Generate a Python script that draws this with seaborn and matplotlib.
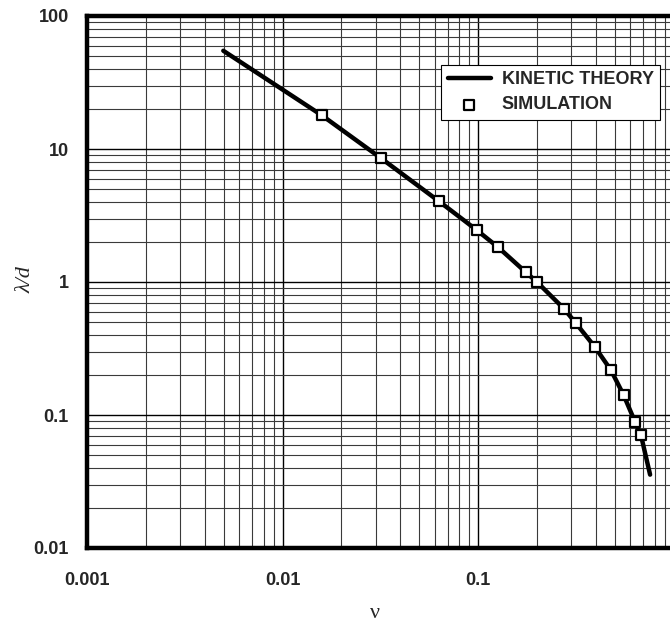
import numpy as np
import pandas as pd
import matplotlib
matplotlib.use("Agg")
import matplotlib.pyplot as plt
import matplotlib.ticker as mticker
import seaborn as sns

# Kinetic theory curve
theory_nu = [0.00498, 0.0159, 0.0318, 0.0632, 0.0984, 0.127, 0.175, 0.201,
             0.276, 0.317, 0.396, 0.479, 0.556, 0.635, 0.682, 0.759]
theory_lam = [54.8, 17.9, 8.56, 4.04, 2.46, 1.82, 1.19, 0.995,
              0.627, 0.489, 0.325, 0.217, 0.141, 0.0892, 0.0703, 0.0356]

# Simulation points
sim_nu = [0.0159, 0.0318, 0.0632, 0.0984, 0.127, 0.175, 0.201,
          0.276, 0.317, 0.396, 0.479, 0.556, 0.635, 0.682]
sim_lam = [17.9, 8.56, 4.04, 2.46, 1.82, 1.19, 0.995,
           0.627, 0.489, 0.325, 0.217, 0.141, 0.0892, 0.0703]

x_ticks = [0.001, 0.01, 0.1]
x_ticklabels = ["0.001", "0.01", "0.1"]
y_ticks = [0.01, 0.1, 1, 10, 100]
y_ticklabels = ["0.01", "0.1", "1", "10", "100"]

sns.set_theme(style="white")
plt.rcParams['font.family'] = ['Liberation Sans', 'DejaVu Sans']

df_t = pd.DataFrame({"nu": theory_nu, "lam": theory_lam})
df_s = pd.DataFrame({"nu": sim_nu, "lam": sim_lam})

fig = plt.figure(figsize=(6.70, 6.26), dpi=100)
ax = fig.add_axes([87/670, 78/626, (673.5-87)/670, (610-78)/626])

ax.set_xscale("log")
ax.set_yscale("log")
ax.set_xlim(0.001, 1)
ax.set_ylim(0.01, 100)

sns.lineplot(data=df_t, x="nu", y="lam", ax=ax, color="black", linewidth=3.2,
             label="KINETIC THEORY", sort=False, zorder=3)
sns.scatterplot(data=df_s, x="nu", y="lam", ax=ax, marker="s", s=60,
                facecolor="white", edgecolor="black", linewidth=1.6,
                label="SIMULATION", zorder=4)

ax.xaxis.set_major_locator(mticker.FixedLocator(x_ticks))
ax.xaxis.set_major_formatter(mticker.FixedFormatter(x_ticklabels))
ax.yaxis.set_major_locator(mticker.FixedLocator(y_ticks))
ax.yaxis.set_major_formatter(mticker.FixedFormatter(y_ticklabels))
ax.xaxis.set_minor_locator(mticker.LogLocator(base=10, subs=np.arange(2, 10)))
ax.yaxis.set_minor_locator(mticker.LogLocator(base=10, subs=np.arange(2, 10)))
ax.xaxis.set_minor_formatter(mticker.NullFormatter())
ax.yaxis.set_minor_formatter(mticker.NullFormatter())

ax.grid(True, which="major", color="black", linewidth=1.0, zorder=1)
ax.grid(True, which="minor", color="#3a3a3a", linewidth=0.8, zorder=1)
ax.set_axisbelow(True)

ax.tick_params(axis="both", which="both", length=0)
ax.tick_params(axis="x", pad=17, labelsize=13)
ax.tick_params(axis="y", pad=13, labelsize=13)
for lab in ax.get_xticklabels() + ax.get_yticklabels():
    lab.set_fontweight("bold")

for side in ["left", "bottom", "top"]:
    ax.spines[side].set_visible(True)
    ax.spines[side].set_color("black")
    ax.spines[side].set_linewidth(3.2)
ax.spines["right"].set_visible(False)

xl = ax.set_xlabel("ν", family=["Liberation Serif", "DejaVu Serif"], fontsize=16)
yl = ax.set_ylabel("λ/d", family=["Liberation Serif", "DejaVu Serif"], style="italic",
                   fontsize=16)
ax.xaxis.set_label_coords((375-87)/586.5, (548-613)/532)
xl.set_va("center")
ax.yaxis.set_label_coords((26-87)/586.5, (548-280)/532)
yl.set_va("center")

leg = ax.legend(loc="upper right", bbox_to_anchor=(660/670, (626-65)/626),
                bbox_transform=fig.transFigure, borderaxespad=0,
                frameon=True, fancybox=False, framealpha=1, edgecolor="black",
                prop={"weight": "bold", "size": 13}, handlelength=2.4,
                borderpad=0.35, labelspacing=0.45, handletextpad=0.6)
leg.get_frame().set_linewidth(0.8)

fig.savefig("out.png", dpi=100)
